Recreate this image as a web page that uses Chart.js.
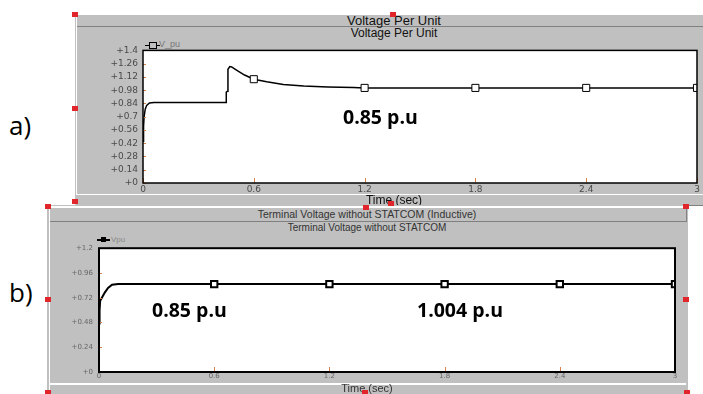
<!DOCTYPE html>
<html>
<head>
<meta charset="utf-8">
<script src="https://cdn.jsdelivr.net/npm/chart.js@4.4.1/dist/chart.umd.min.js"></script>
<style>
  body { margin: 0; width: 703px; height: 394px; position: relative; overflow: hidden; background: #fff; font-family: "Liberation Sans", Arial, sans-serif; }
  .abs { position: absolute; }
  .panel { position: absolute; background: #c0c0c0; overflow: hidden; }
  .center { transform: translateX(-50%); white-space: nowrap; }
  .note { position: absolute; font-family: "Open Sans", sans-serif; font-weight: 700; line-height: 1; color: #000; white-space: nowrap; }
  .tag { position: absolute; font-family: "Open Sans", sans-serif; font-size: 26px; line-height: 1; color: #000; }
  .handle { position: absolute; width: 6px; height: 5px; background: #e0262b; }
</style>
</head>
<body>

<div class="tag" style="left:9px;top:112px">a)</div>
<div class="tag" style="left:9px;top:279px">b)</div>

<!-- Panel a -->
<div class="panel" style="left:75px;top:14px;width:628px;height:192px">
  <div class="abs" style="left:0;top:0;width:628px;height:1px;background:#fff"></div>
  <div class="abs" style="left:1px;top:1px;width:1px;height:180px;background:#fff"></div>
  <div class="abs" style="left:2px;top:1px;width:626px;height:11px;border-bottom:1px solid #808080"></div>
  <div class="abs center" style="left:319px;top:1px;font-size:13px;line-height:11px;color:#111">Voltage Per Unit</div>
  <div class="abs center" style="left:319px;top:12px;font-size:12px;line-height:14px;color:#111">Voltage Per Unit</div>
  <div class="abs" style="left:70px;top:31px;width:15px;height:1px;background:#000"></div>
  <div class="abs" style="left:74px;top:28px;width:6px;height:5px;border:1px solid #000;background:#c0c0c0"></div>
  <div class="abs" style="left:84px;top:25px;font-size:9px;line-height:11px;color:#777">V_pu</div>
  <canvas id="chartA" class="abs" width="628" height="155" style="left:0;top:26px"></canvas>
  <div class="abs" style="left:2px;top:180px;width:626px;height:1px;background:#fff"></div>
  <div class="abs center" style="left:319px;top:179px;font-size:12px;line-height:14px;color:#111">Time (sec)</div>
</div>
<div class="abs" style="left:688px;top:205px;width:15px;height:1px;background:#808080"></div>

<!-- Panel b -->
<div class="panel" style="left:47px;top:205px;width:641px;height:189px;filter:blur(0.5px)">
  <div class="abs" style="left:0;top:1px;width:641px;height:2px;background:#fff"></div>
  <div class="abs" style="left:2px;top:3px;width:1px;height:186px;background:#fff"></div>
  <div class="abs" style="left:3px;top:3px;width:636px;height:13px;border-right:1px solid #808080;border-bottom:1px solid #808080"></div>
  <div class="abs center" style="left:320px;top:3px;font-size:10.5px;line-height:13px;color:#333">Terminal Voltage without STATCOM (Inductive)</div>
  <div class="abs center" style="left:320px;top:17px;font-size:10px;line-height:12px;color:#333">Terminal Voltage without STATCOM</div>
  <div class="abs" style="left:50px;top:34px;width:13px;height:2px;background:#000"></div>
  <div class="abs" style="left:54px;top:32px;width:5px;height:5px;background:#000"></div>
  <div class="abs" style="left:64px;top:30px;font-size:8px;line-height:10px;color:#888">Vpu</div>
  <canvas id="chartB" class="abs" width="641" height="145" style="left:0;top:33px"></canvas>
  <div class="abs" style="left:2px;top:178px;width:637px;height:2px;background:#fff"></div>
  <div class="abs center" style="left:320px;top:177px;font-size:11px;line-height:13px;color:#333">Time (sec)</div>
</div>

<div class="note" style="left:343px;top:107px;font-size:19.5px">0.85 p.u</div>
<div class="note" style="left:152px;top:300px;font-size:19.5px">0.85 p.u</div>
<div class="note" style="left:417px;top:300px;font-size:19.5px">1.004 p.u</div>

<div id="handles"></div>

<script>
// Data
const xTicks = [0, 0.6, 1.2, 1.8, 2.4, 3];
const yTicksA = [0, 0.14, 0.28, 0.42, 0.56, 0.7, 0.84, 0.98, 1.12, 1.26, 1.4];
const yTicksB = [0, 0.24, 0.48, 0.72, 0.96, 1.2];
const markerTimes = [0.6, 1.2, 1.8, 2.4, 3];

const timeA = [0, 0.003, 0.006, 0.012, 0.02, 0.035, 0.06, 0.45, 0.451, 0.458, 0.46, 0.47, 0.48, 0.5, 0.55, 0.6, 0.67, 0.76, 0.87, 1.0, 1.14, 1.2, 1.8, 2.4, 3];
const voltA = [0.44, 0.6, 0.7, 0.78, 0.82, 0.845, 0.85, 0.85, 0.96, 0.97, 1.2, 1.23, 1.225, 1.2, 1.14, 1.096, 1.068, 1.04, 1.024, 1.014, 1.008, 1.004, 1.004, 1.004, 1.004];

const timeB = [0, 0.003, 0.006, 0.015, 0.03, 0.047, 0.068, 0.1, 0.6, 1.2, 1.8, 2.4, 3];
const voltB = [0.47, 0.6, 0.69, 0.72, 0.77, 0.815, 0.845, 0.852, 0.852, 0.852, 0.852, 0.852, 0.852];

// Red selection handles of the plot frames
const HANDLES = [
  [72, 12], [390, 12], [72, 106], [72, 199], [388, 201],
  [45, 204], [363, 205], [683, 204], [45, 297], [683, 297], [45, 390], [684, 390], [362, 390]
];
document.getElementById('handles').innerHTML = HANDLES
  .map(([x, y]) => `<div class="handle" style="left:${x}px;top:${y}px"></div>`).join('');

const fmt = v => String(Number(v.toFixed(2)));

// white plot area, black frame, small inside tick marks
const framePlugin = {
  id: 'frame',
  beforeDraw(chart) {
    const { ctx, chartArea: a } = chart;
    ctx.save();
    ctx.fillStyle = '#fff';
    ctx.fillRect(a.left, a.top, a.right - a.left, a.bottom - a.top);
    ctx.restore();
  },
  afterDraw(chart, args, opts) {
    const { ctx, chartArea: a, scales } = chart;
    ctx.save();
    ctx.strokeStyle = opts.tickColor;
    ctx.lineWidth = 1;
    scales.y.ticks.forEach(t => {
      const y = Math.round(scales.y.getPixelForValue(t.value)) + 0.5;
      ctx.beginPath(); ctx.moveTo(a.left, y); ctx.lineTo(a.left + 3, y); ctx.stroke();
    });
    scales.x.ticks.forEach(t => {
      const x = Math.round(scales.x.getPixelForValue(t.value)) + 0.5;
      ctx.beginPath(); ctx.moveTo(x, a.bottom); ctx.lineTo(x, a.bottom - 5); ctx.stroke();
    });
    ctx.strokeStyle = '#000';
    ctx.lineWidth = opts.width;
    ctx.strokeRect(a.left, a.top, a.right - a.left, a.bottom - a.top);
    ctx.restore();
  }
};

function makeChart(id, times, volts, cfg) {
  return new Chart(document.getElementById(id), {
    type: 'line',
    data: {
      datasets: [{
        data: times.map((t, i) => ({ x: t, y: volts[i] })),
        borderColor: '#000',
        borderWidth: cfg.lineWidth,
        tension: 0,
        fill: false,
        pointStyle: 'rect',
        pointRadius: c => markerTimes.includes(times[c.dataIndex]) ? cfg.markerSize : 0,
        pointBackgroundColor: '#fff',
        pointBorderColor: '#000',
        pointBorderWidth: cfg.markerBorder
      }]
    },
    options: {
      responsive: false,
      animation: false,
      events: [],
      layout: { padding: { top: cfg.padTop, right: cfg.padRight, left: 0, bottom: 0 } },
      plugins: {
        legend: { display: false },
        tooltip: { enabled: false },
        frame: { width: cfg.frameWidth, tickColor: '#d9824b' }
      },
      scales: {
        x: {
          type: 'linear', min: 0, max: 3,
          afterBuildTicks: s => { s.ticks = xTicks.map(v => ({ value: v })); },
          afterFit: s => { s.height = cfg.xHeight; },
          grid: { display: false, drawTicks: false },
          border: { display: false },
          ticks: { padding: cfg.xPad, maxRotation: 0, autoSkip: false, color: cfg.tickColor,
                   font: { family: 'DejaVu Sans', size: cfg.tickSize }, callback: v => fmt(v) }
        },
        y: {
          min: 0, max: cfg.yMax,
          afterBuildTicks: s => { s.ticks = cfg.yTicks.map(v => ({ value: v })); },
          afterFit: s => { s.width = cfg.yWidth; },
          grid: { display: false, drawTicks: false },
          border: { display: false },
          ticks: { padding: cfg.yPad, autoSkip: false, color: cfg.tickColor,
                   font: { family: 'DejaVu Sans', size: cfg.tickSize }, callback: v => '+' + fmt(v) }
        }
      }
    },
    plugins: [framePlugin]
  });
}

makeChart('chartA', timeA, voltA, {
  yMax: 1.4, yTicks: yTicksA, lineWidth: 1.5, markerSize: 5, markerBorder: 1,
  padTop: 9, padRight: 6, xHeight: 12, yWidth: 68, xPad: 1, yPad: 5,
  tickSize: 9, tickColor: '#4a4a4a', frameWidth: 1.5
});

makeChart('chartB', timeB, voltB, {
  yMax: 1.2, yTicks: yTicksB, lineWidth: 2, markerSize: 4.5, markerBorder: 2,
  padTop: 9, padRight: 13, xHeight: 11, yWidth: 52, xPad: 0, yPad: 6,
  tickSize: 7, tickColor: '#666', frameWidth: 2
});
</script>
</body>
</html>
